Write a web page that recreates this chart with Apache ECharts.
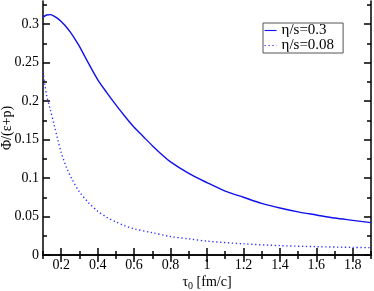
<!DOCTYPE html>
<html><head><meta charset="utf-8">
<script src="https://cdn.jsdelivr.net/npm/echarts@6/dist/echarts.min.js"></script>
<style>html,body{margin:0;padding:0;background:#fff}#c{width:374px;height:291px}</style>
</head><body><div id="c"></div>
<script>
var xSolid = [0.10,0.12,0.14,0.16,0.18,0.20,0.22,0.25,0.28,0.30,0.35,0.40,0.45,0.50,0.55,0.60,0.65,0.70,0.75,0.80,0.90,1.00,1.10,1.20,1.30,1.40,1.50,1.60,1.70,1.80,1.90];
var ySolid = [0.309,0.3118,0.3123,0.3105,0.3075,0.3035,0.2985,0.2895,0.279,0.271,0.249,0.228,0.211,0.195,0.180,0.166,0.154,0.142,0.131,0.121,0.106,0.094,0.083,0.075,0.067,0.061,0.056,0.052,0.048,0.045,0.042];
var xDot = [0.10,0.11,0.12,0.14,0.16,0.18,0.20,0.23,0.26,0.30,0.35,0.40,0.45,0.50,0.55,0.60,0.70,0.80,0.90,1.00,1.20,1.40,1.60,1.80,1.90];
var yDot = [0.238,0.222,0.207,0.189,0.170,0.151,0.133,0.113,0.098,0.082,0.068,0.057,0.049,0.043,0.038,0.034,0.029,0.024,0.021,0.018,0.0145,0.0122,0.0108,0.0099,0.0095];
var xMajor = [0.2,0.4,0.6,0.8,1.0,1.2,1.4,1.6,1.8];
var xMinor = [0.1,0.3,0.5,0.7,0.9,1.1,1.3,1.5,1.7,1.9];
var yMajor = [0,0.05,0.1,0.15,0.2,0.25,0.3];
var yMinor = [0.025,0.075,0.125,0.175,0.225,0.275,0.325];
var xLabels = ['0.2','0.4','0.6','0.8','1','1.2','1.4','1.6','1.8'];
var yLabels = ['0','0.05','0.1','0.15','0.2','0.25','0.3'];
var seriesNames = ['η/s=0.3','η/s=0.08'];

var FONT = 'Liberation Serif';
function pairs(xs, ys){ return xs.map(function(x,i){return [x, ys[i]];}); }
function lab(list, vals){ return function(v){ for (var i=0;i<vals.length;i++) if (Math.abs(vals[i]-v)<1e-6) return list[i]; return ''; }; }

function xAx(pos, vals, len, showLabel, showLine, extra){
  var a = {type:'value', min:0.1, max:1.9, position:pos, gridIndex:0,
    axisLine:{show:showLine, lineStyle:{color:'#000', width:1.5}},
    axisTick:{show:true, inside:true, length:len, customValues:vals, lineStyle:{color:'#000', width:1.5}},
    axisLabel:{show:showLabel, customValues:vals, formatter:lab(xLabels,xMajor), color:'#000', fontFamily:FONT, fontSize:14, margin:3},
    splitLine:{show:false}};
  for (var k in extra) a[k]=extra[k];
  return a;
}
function yAx(pos, vals, len, showLabel, showLine, extra){
  var a = {type:'value', min:0, max:0.33, position:pos, gridIndex:0,
    axisLine:{show:showLine, lineStyle:{color:'#000', width:1.5}},
    axisTick:{show:true, inside:true, length:len, customValues:vals, lineStyle:{color:'#000', width:1.5}},
    axisLabel:{show:showLabel, customValues:vals, formatter:lab(yLabels,yMajor), color:'#000', fontFamily:FONT, fontSize:14, margin:4},
    splitLine:{show:false}};
  for (var k in extra) a[k]=extra[k];
  return a;
}

var chart = echarts.init(document.getElementById('c'), null, {renderer:'canvas'});
chart.setOption({
  animation:false,
  backgroundColor:'#fff',
  grid:{left:43, right:3, top:1, bottom:36, outerBoundsMode:'none', containLabel:false},
  legend:{
    show:true, type:'plain',
    left:263, top:23, orient:'vertical', itemWidth:12, itemHeight:12, itemGap:0,
    padding:[0,9,0,1], borderColor:'#555', borderWidth:1,
    itemStyle:{opacity:0},
    lineStyle:{width:1.1},
    textStyle:{fontFamily:FONT, fontSize:15, color:'#000', lineHeight:13},
    data:seriesNames
  },
  xAxis:[
    xAx('bottom', xMajor, 7, true, true, {name:'{t|τ}{s|0} [fm/c]', nameLocation:'middle', nameGap:18, nameMoveOverlap:false,
      nameTextStyle:{fontFamily:FONT, fontSize:14, color:'#000', rich:{t:{fontFamily:FONT,fontSize:14},s:{fontFamily:FONT,fontSize:10,verticalAlign:'bottom',padding:[8,0,0,0]}}}}),
    xAx('bottom', xMinor, 4, false, false, {}),
    xAx('top', xMajor, 7, false, true, {}),
    xAx('top', xMinor, 4, false, false, {})
  ],
  yAxis:[
    yAx('left', yMajor, 7, true, true, {name:'Φ/(ε+p)', nameLocation:'middle', nameGap:29, nameMoveOverlap:false,
      nameTextStyle:{fontFamily:FONT, fontSize:14, color:'#000'}}),
    yAx('left', yMinor, 4, false, false, {}),
    yAx('right', yMajor, 7, false, true, {}),
    yAx('right', yMinor, 4, false, false, {})
  ],
  series:[
    {name:seriesNames[0], type:'line', data:pairs(xSolid,ySolid), smooth:0.3, symbol:'none', xAxisIndex:0, yAxisIndex:0,
      lineStyle:{color:'#1010ee', width:1.4}, itemStyle:{color:'#1010ee'}},
    {name:seriesNames[1], type:'line', data:pairs(xDot,yDot), smooth:0.3, symbol:'none', xAxisIndex:0, yAxisIndex:0,
      lineStyle:{color:'#3030ff', width:1.4, type:[1.3,2.6]}, itemStyle:{color:'#3030ff'}}
  ]
});
</script></body></html>
